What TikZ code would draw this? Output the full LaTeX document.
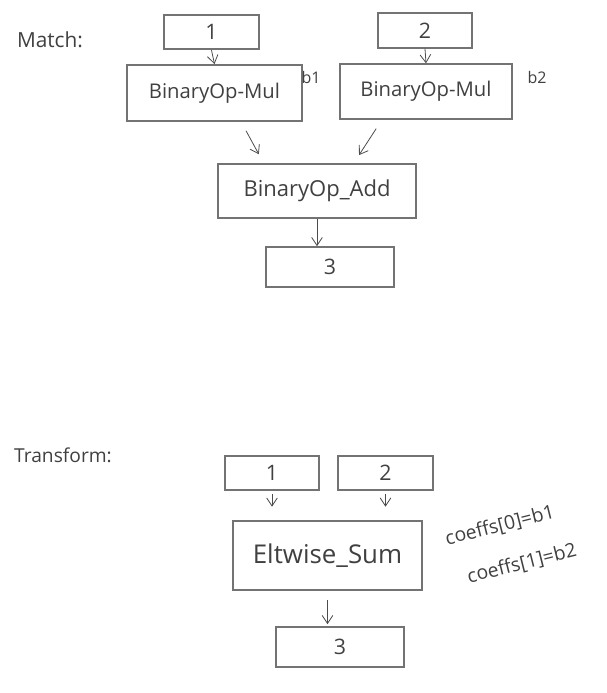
\documentclass[tikz,border=0pt]{standalone}
\usepackage{fontspec}
\setmainfont{Open Sans}
\usetikzlibrary{arrows.meta}

\begin{document}
\begin{tikzpicture}[x=0.75pt,y=-0.75pt,
  box/.style={draw=black!55,line width=1.3pt,inner sep=0pt,text=black!75},
  inbox/.style={box,minimum width=71pt,minimum height=26pt,font=\fontsize{16}{18}\selectfont},
  outbox/.style={box,minimum width=96pt,minimum height=30pt,font=\fontsize{16}{18}\selectfont},
  lbl/.style={text=black!75,inner sep=0pt},
  arr/.style={draw=black!70,line width=0.6pt,-{Straight Barb[length=6pt,width=8pt]}}]
\useasboundingbox (0,0) rectangle (607,693);

% Match
\node[lbl,font=\fontsize{15.6}{18}\selectfont] (match) at (50,40) {Match:};
\node[inbox] (one) at (211.5,32) {1};
\node[inbox] (two) at (425,30.5) {2};
\node[box,minimum width=131pt,minimum height=42pt,font=\fontsize{15.2}{18}\selectfont] (mulA) at (214.5,93) {BinaryOp-Mul};
\node[box,minimum width=129pt,minimum height=41pt,font=\fontsize{15.2}{18}\selectfont] (mulB) at (426,91.5) {BinaryOp-Mul};
\node[lbl,font=\fontsize{12}{14}\selectfont] (bA) at (311,77) {b1};
\node[lbl,font=\fontsize{12}{14}\selectfont] (bB) at (537,77) {b2};
\node[box,minimum width=148.5pt,minimum height=40.5pt,font=\fontsize{16.5}{18}\selectfont] (add) at (317,191) {BinaryOp\_Add};
\node[outbox] (outA) at (330,267) {3};

\draw[arr] (one.south) -- (mulA.north);
\draw[arr] (two.south) -- (mulB.north);
\draw[arr,shorten <=7.6pt,shorten >=7.6pt] ([xshift=20pt]mulA.south) -- ([xshift=-40pt]add.north);
\draw[arr,shorten <=8pt,shorten >=7.2pt] ([xshift=-33pt]mulB.south) -- ([xshift=27.6pt]add.north);
\draw[arr] (add.south) -- (add.south |- outA.north);

% Transform
\node[lbl,font=\fontsize{14.4}{18}\selectfont] (trans) at (63,455) {Transform:};
\node[inbox] (inA) at (272,473) {1};
\node[inbox] (inB) at (385.5,473) {2};
\node[box,minimum width=142pt,minimum height=52pt,font=\fontsize{19.4}{22}\selectfont] (sum) at (327.5,555.5) {Eltwise\_Sum};
\node[outbox] (outB) at (340,647) {3};
\node[lbl,rotate=14,font=\fontsize{14.5}{18}\selectfont] (coefA) at (500,526) {coeffs[0]=b1};
\node[lbl,rotate=14,font=\fontsize{14.5}{18}\selectfont] (coefB) at (522,564) {coeffs[1]=b2};

\draw[arr,shorten <=2pt,shorten >=10pt] (inA.south) -- (inA.south |- sum.north);
\draw[arr,shorten <=2pt,shorten >=10pt] (inB.south) -- (inB.south |- sum.north);
\draw[arr,shorten <=7pt,shorten >=1.5pt] (sum.south) -- (sum.south |- outB.north);

\end{tikzpicture}
\end{document}
